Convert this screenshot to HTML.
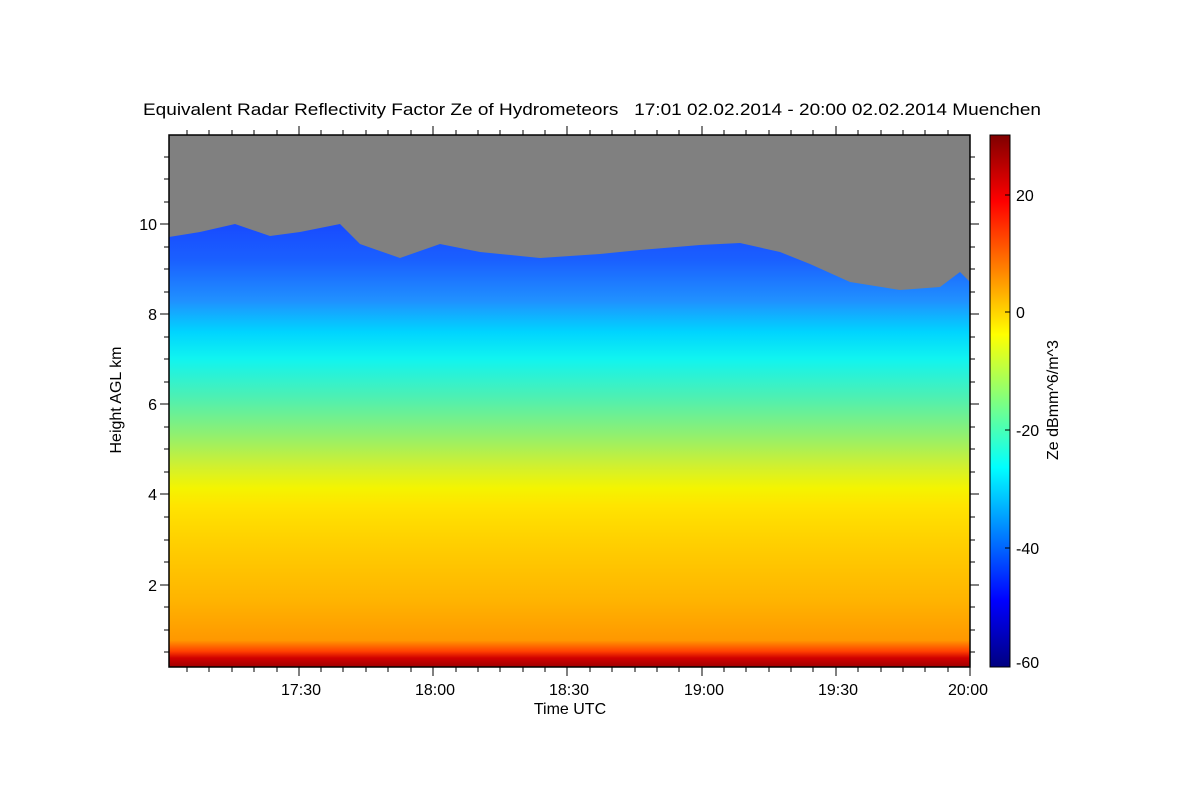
<!DOCTYPE html>
<html><head><style>
body{margin:0;background:#fff;width:1200px;height:800px;overflow:hidden;font-family:"Liberation Sans",sans-serif}
</style></head><body>
<svg width="1200" height="800" xmlns="http://www.w3.org/2000/svg" font-family="Liberation Sans, sans-serif" font-size="16">
<defs>
<linearGradient id="g" gradientUnits="userSpaceOnUse" x1="0" y1="220" x2="0" y2="667">
<stop offset="0" stop-color="#1848ff"/>
<stop offset="0.09" stop-color="#1a60ff"/>
<stop offset="0.18" stop-color="#2090ff"/>
<stop offset="0.25" stop-color="#00d4ff"/>
<stop offset="0.31" stop-color="#10f4f0"/>
<stop offset="0.40" stop-color="#50f0b0"/>
<stop offset="0.48" stop-color="#90f070"/>
<stop offset="0.55" stop-color="#d0f030"/>
<stop offset="0.60" stop-color="#f4f400"/>
<stop offset="0.64" stop-color="#ffe400"/>
<stop offset="0.72" stop-color="#ffd000"/>
<stop offset="0.85" stop-color="#ffb400"/>
<stop offset="0.94" stop-color="#ff9800"/>
<stop offset="0.965" stop-color="#ff4000"/>
<stop offset="0.98" stop-color="#d00000"/>
<stop offset="1" stop-color="#a00000"/>
</linearGradient>
<linearGradient id="cb" x1="0" y1="1" x2="0" y2="0">
<stop offset="0" stop-color="#000080"/>
<stop offset="0.125" stop-color="#0000ff"/>
<stop offset="0.375" stop-color="#00ffff"/>
<stop offset="0.625" stop-color="#ffff00"/>
<stop offset="0.875" stop-color="#ff0000"/>
<stop offset="1" stop-color="#800000"/>
</linearGradient>
</defs>
<text x="592" y="115" text-anchor="middle" font-size="17" style="white-space:pre" textLength="898" lengthAdjust="spacingAndGlyphs">Equivalent Radar Reflectivity Factor Ze of Hydrometeors   17:01 02.02.2014 - 20:00 02.02.2014 Muenchen</text>
<rect x="169" y="135" width="801" height="532" fill="#808080"/>
<path d="M169,237 L200,232 L235,224 L270,236 L300,232 L340,224 L360,244 L400,258 L440,244 L480,252 L540,258 L600,254 L640,250 L700,245 L740,243 L780,252 L810,264 L850,282 L900,290 L940,287 L960,272 L970,282 L970,667 L169,667 Z" fill="url(#g)"/>
<rect x="169" y="135" width="801" height="532" fill="none" stroke="#000" stroke-width="1.5"/>
<g stroke="#000" stroke-width="1">
<path d="M160,224H169M160,314H169M160,404H169M160,494H169M160,585H169 M970,224H979M970,314H979M970,404H979M970,494H979M970,585H979"/>
<path d="M164,157H169M164,179H169M164,202H169M164,247H169M164,269H169M164,292H169M164,337H169M164,359H169M164,382H169M164,427H169M164,449H169M164,472H169M164,517H169M164,540H169M164,562H169M164,607H169M164,630H169M164,652H169
M970,157H975M970,179H975M970,202H975M970,247H975M970,269H975M970,292H975M970,337H975M970,359H975M970,382H975M970,427H975M970,449H975M970,472H975M970,517H975M970,540H975M970,562H975M970,607H975M970,630H975M970,652H975"/>
<path d="M299,667V676M433,667V676M567,667V676M702,667V676M836,667V676M970,667V676 M299,135V126M433,135V126M567,135V126M702,135V126M836,135V126"/>
<path d="M187,667V672M209,667V672M232,667V672M254,667V672M277,667V672M321,667V672M343,667V672M366,667V672M388,667V672M411,667V672M456,667V672M478,667V672M500,667V672M523,667V672M545,667V672M590,667V672M612,667V672M635,667V672M657,667V672M679,667V672M724,667V672M746,667V672M769,667V672M791,667V672M813,667V672M858,667V672M881,667V672M903,667V672M925,667V672M948,667V672
M187,135V130M209,135V130M232,135V130M254,135V130M277,135V130M321,135V130M343,135V130M366,135V130M388,135V130M411,135V130M456,135V130M478,135V130M500,135V130M523,135V130M545,135V130M590,135V130M612,135V130M635,135V130M657,135V130M679,135V130M724,135V130M746,135V130M769,135V130M791,135V130M813,135V130M858,135V130M881,135V130M903,135V130M925,135V130M948,135V130"/>
</g>
<g text-anchor="end">
<text x="157" y="230">10</text><text x="157" y="320">8</text><text x="157" y="410">6</text><text x="157" y="500">4</text><text x="157" y="591">2</text>
</g>
<g text-anchor="middle">
<text x="301" y="695">17:30</text><text x="435" y="695">18:00</text><text x="569" y="695">18:30</text><text x="704" y="695">19:00</text><text x="838" y="695">19:30</text><text x="968" y="695">20:00</text>
<text x="570" y="714">Time UTC</text>
</g>
<text transform="translate(121,400) rotate(-90)" text-anchor="middle">Height AGL km</text>
<rect x="990" y="135" width="20" height="532" fill="url(#cb)" stroke="#000" stroke-width="1"/>
<g stroke="#000"><path d="M1010,195H1005M1010,312H1005M1010,430H1005M1010,548H1005"/></g>
<g>
<text x="1016" y="201">20</text><text x="1016" y="318">0</text><text x="1016" y="436">-20</text><text x="1016" y="554">-40</text><text x="1016" y="668">-60</text>
</g>
<text transform="translate(1058,400) rotate(-90)" text-anchor="middle">Ze dBmm^6/m^3</text>
</svg>
</body></html>
